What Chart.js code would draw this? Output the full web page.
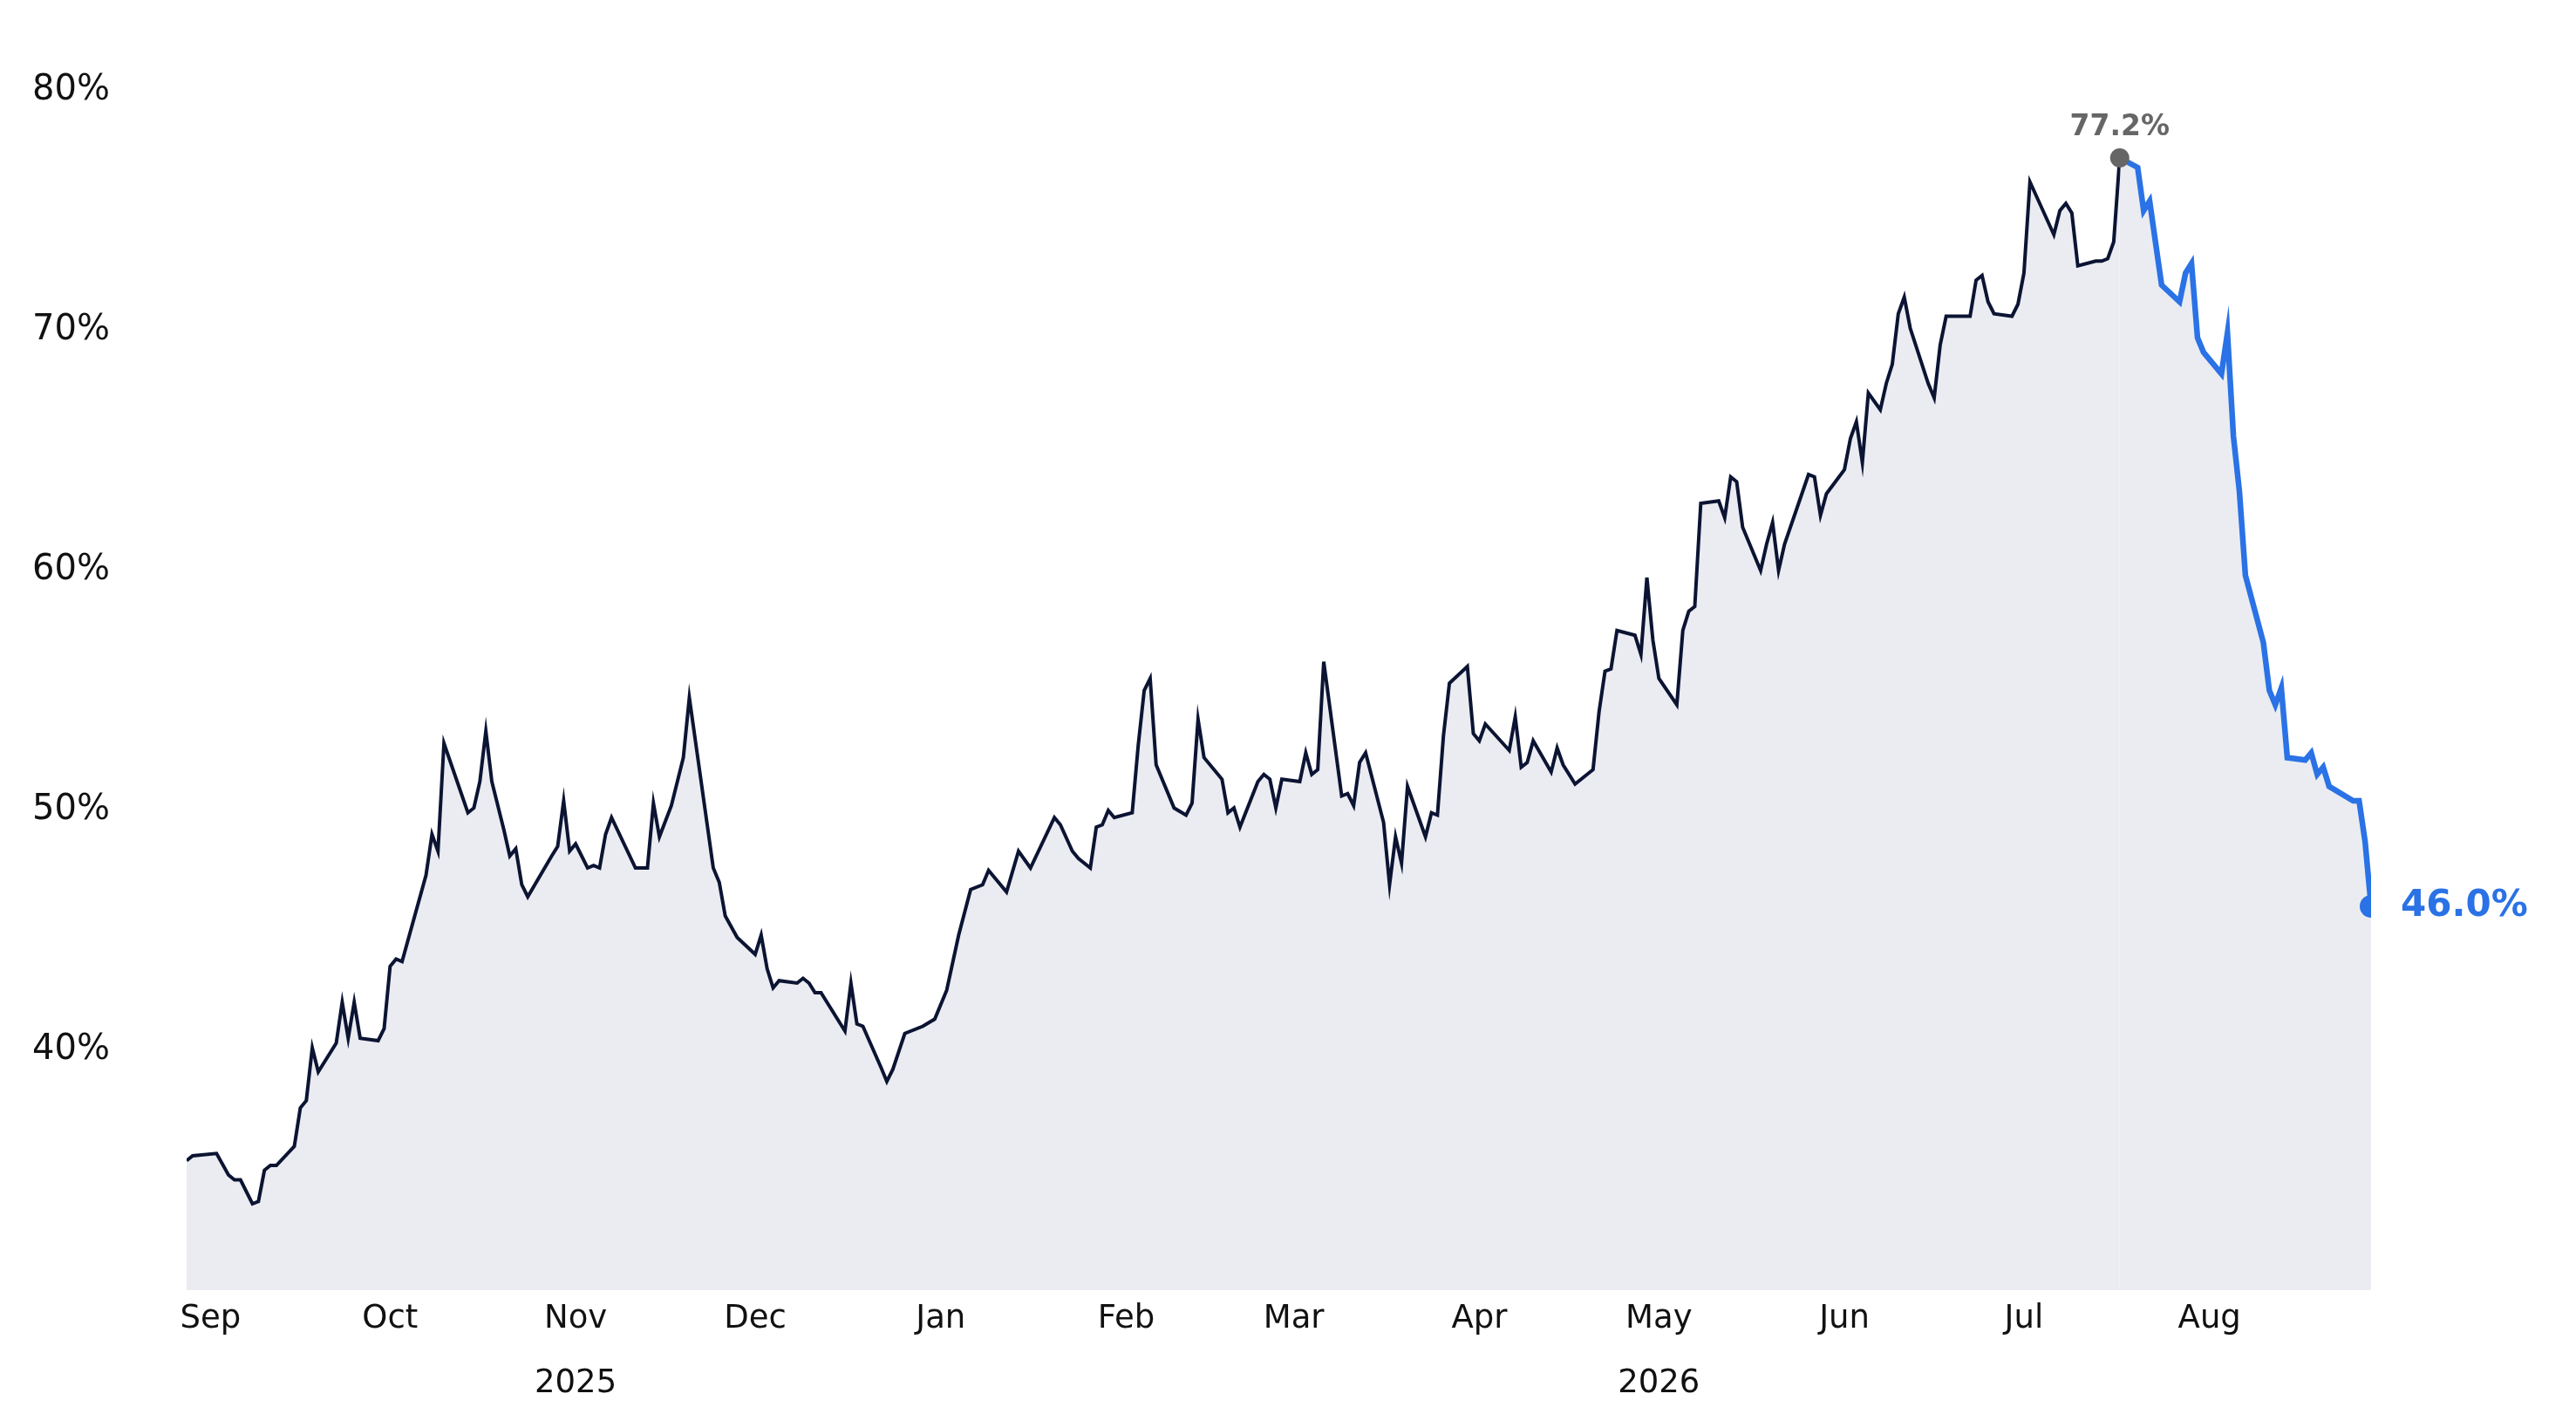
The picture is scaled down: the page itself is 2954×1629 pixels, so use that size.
<!DOCTYPE html>
<html><head><meta charset="utf-8">
<script src="https://cdn.jsdelivr.net/npm/chart.js@4"></script>
<style>html,body{margin:0;padding:0;background:#fff}#w{width:2954px;height:1629px}</style>
</head><body><div id="w"><canvas id="c"></canvas></div>
<script>
// days since 2025-08-28
const histDays=[0,1,5,7,8,9,11,12,13,14,15,18,19,20,21,22,25,26,27,28,29,32,33,34,35,36,40,41,42,43,47,48,49,50,51,53,54,55,56,57,61,62,63,64,65,67,68,69,70,71,75,77,78,79,81,83,84,88,89,90,92,95,96,97,98,99,102,103,104,105,106,110,111,112,113,116,117,118,120,123,125,127,129,131,133,134,137,139,141,145,146,148,149,151,152,153,154,155,158,159,160,161,162,165,167,168,169,170,173,174,175,176,179,180,181,182,183,186,187,188,189,190,193,194,195,196,197,200,201,202,203,204,207,208,209,210,211,214,215,216,217,221,222,223,224,225,228,229,230,232,235,236,237,238,239,242,243,244,245,246,249,250,251,252,253,256,257,258,259,260,263,264,265,266,267,271,272,273,274,277,278,279,280,281,283,284,285,286,287,288,291,292,293,294,298,299,300,301,302,305,306,307,308,312,313,314,315,316,319,320,321,322,323];
const histValues=[35.4,35.6,35.7,34.8,34.6,34.6,33.6,33.7,35.0,35.2,35.2,36.0,37.6,37.9,40.1,39.1,40.3,42.0,40.5,42.0,40.5,40.4,40.9,43.5,43.8,43.7,47.3,49.0,48.3,52.8,49.9,50.1,51.2,53.3,51.2,49.2,48.1,48.4,46.9,46.4,48.1,48.5,50.4,48.3,48.6,47.6,47.7,47.6,49.0,49.7,47.6,47.6,50.3,48.9,50.2,52.2,54.7,47.6,47.0,45.6,44.7,44.0,44.8,43.4,42.6,42.9,42.8,43.0,42.8,42.4,42.4,40.8,42.8,41.1,41.0,39.3,38.7,39.2,40.7,41.0,41.3,42.5,44.8,46.7,46.9,47.5,46.6,48.3,47.6,49.7,49.4,48.3,48.0,47.6,49.3,49.4,50.0,49.7,49.9,52.7,55.0,55.5,51.9,50.1,49.8,50.3,53.8,52.2,51.3,49.9,50.1,49.3,51.2,51.5,51.3,50.1,51.3,51.2,52.4,51.5,51.7,56.2,50.6,50.7,50.2,52.0,52.4,49.5,46.9,48.9,47.8,51.0,48.9,49.9,49.8,53.1,55.3,56.0,53.2,52.9,53.6,52.5,53.9,51.8,52.0,52.9,51.6,52.6,51.9,51.1,51.7,54.1,55.8,55.9,57.5,57.3,56.5,59.7,57.1,55.5,54.4,57.5,58.3,58.5,62.8,62.9,62.2,63.9,63.7,61.8,60.0,61.1,62.0,60.0,61.1,64.0,63.9,62.3,63.2,64.2,65.5,66.2,64.5,67.4,66.7,67.8,68.6,70.7,71.4,70.1,67.8,67.2,69.4,70.6,70.6,72.1,72.3,71.2,70.7,70.6,71.1,72.4,76.2,74.0,75.0,75.3,74.9,72.7,72.9,72.9,73.0,73.7,77.2];
const recentDays=[323,326,327,328,330,333,334,335,336,337,340,341,342,343,344,347,348,349,350,351,354,355,356,357,358,362,363,364,365];
const recentValues=[77.2,76.8,75.0,75.4,71.9,71.2,72.4,72.8,69.7,69.1,68.2,69.9,65.6,63.3,59.8,57.0,55.0,54.4,55.1,52.2,52.1,52.4,51.5,51.8,51.0,50.4,50.4,48.7,46.0];
const monthTicks=[4,34,65,95,126,157,185,216,246,277,307,338];
const monthLabels=[["Sep"],["Oct"],["Nov","2025"],["Dec"],["Jan"],["Feb"],["Mar"],["Apr"],["May","2026"],["Jun"],["Jul"],["Aug"]];
const yTicks=[40,50,60,70,80];
const peakLabel="77.2%", lastLabel="46.0%";

const zip=(a,b)=>a.map((x,i)=>({x,y:b[i]}));
const navy='#0c1433', blue='#2a72e5', fillC='rgba(205,209,222,0.42)';
const peakIdx=histValues.length-1, lastIdx=recentValues.length-1;

const labelPlugin={id:'lbl',afterDatasetsDraw(ch){
  const c=ch.ctx,xs=ch.scales.x,ys=ch.scales.y;
  c.save();
  c.font='bold 33px "DejaVu Sans"';c.fillStyle='#666';c.textAlign='center';c.textBaseline='alphabetic';
  c.fillText(peakLabel,xs.getPixelForValue(histDays[peakIdx]),ys.getPixelForValue(histValues[peakIdx])-26);
  c.font='bold 42px "DejaVu Sans"';c.fillStyle=blue;c.textAlign='left';c.textBaseline='middle';
  c.fillText(lastLabel,xs.getPixelForValue(recentDays[lastIdx])+34,ys.getPixelForValue(recentValues[lastIdx]));
  c.restore();}};

new Chart(document.getElementById('c'),{
  type:'scatter',
  data:{datasets:[
    {order:2,data:zip(histDays,histValues),showLine:true,borderColor:navy,borderWidth:4,pointRadius:0,fill:'start',backgroundColor:fillC,tension:0},
    {order:1,data:zip(recentDays,recentValues),showLine:true,borderColor:blue,borderWidth:6.5,pointRadius:0,fill:'start',backgroundColor:fillC,tension:0},
    {order:0,data:[{x:histDays[peakIdx],y:histValues[peakIdx]}],pointRadius:11,pointBackgroundColor:'#666',pointBorderWidth:0},
    {order:0,data:[{x:recentDays[lastIdx],y:recentValues[lastIdx]}],pointRadius:13,pointBackgroundColor:blue,pointBorderWidth:0}
  ]},
  options:{responsive:true,maintainAspectRatio:false,animation:false,
    layout:{padding:{top:2,right:235,left:0,bottom:0}},
    plugins:{legend:{display:false},tooltip:{enabled:false}},
    scales:{
      x:{type:'linear',min:0,max:365,grid:{display:false},border:{display:false},
        afterBuildTicks(s){s.ticks=monthTicks.map(v=>({value:v}));},
        afterFit(s){s.height=150;},
        ticks:{autoSkip:false,maxRotation:0,padding:-12,color:'#111',font:{family:'DejaVu Sans',size:37,lineHeight:2.0},
          callback(v){const i=monthTicks.indexOf(v);return i>=0?monthLabels[i]:'';}}},
      y:{min:30,max:80,grid:{display:false},border:{display:false},
        afterBuildTicks(s){s.ticks=yTicks.map(v=>({value:v}));},
        afterFit(s){s.width=214;},
        ticks:{padding:80,color:'#111',font:{family:'DejaVu Sans',size:40},callback:v=>v+'%'}}
    }},
  plugins:[labelPlugin]
});
</script></body></html>
